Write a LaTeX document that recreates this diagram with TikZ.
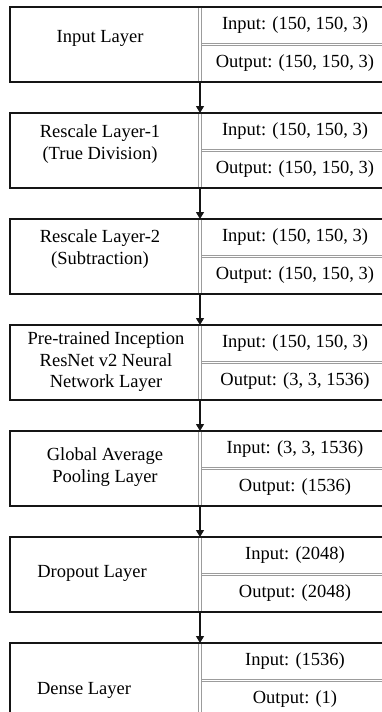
\documentclass[tikz,border=0pt]{standalone}
\usepackage{fontspec}
\setmainfont{Liberation Serif}
\usetikzlibrary{arrows.meta, positioning, calc}
\definecolor{inkblack}{HTML}{151515}
\definecolor{rulegray}{HTML}{9C9C9C}

\begin{document}
\begin{tikzpicture}[x=1pt, y=-1pt,
  >={Triangle[length=7pt, width=8pt]},
  layerbox/.style={draw=inkblack, line width=1.2pt, minimum width=376pt,
    minimum height=75pt, inner sep=0pt, outer sep=0pt},
  dbl/.style={draw=rulegray, line width=0.8pt, double=white,
    double distance=1.9pt, shorten <=0.6pt, shorten >=0.6pt},
  flow/.style={->, draw=inkblack, line width=1.1pt},
  layertext/.style={font=\fontsize{18.5}{21.5}\selectfont, align=center,
    inner sep=0pt},
  shapetext/.style={font=\fontsize{18.5}{21.5}\selectfont, inner sep=0pt}]

% Frame of the picture
\useasboundingbox (0,0) rectangle (382,712);
\clip (0,0) rectangle (382,712);

% Column positions
\coordinate (div) at (200,0);
\coordinate (rc) at (295,0);

% === Layer boxes ===
\node[layerbox, anchor=north west] (b1) at (10,7) {};
\node[layerbox, below=31pt of b1] (b2) {};
\node[layerbox, below=31pt of b2] (b3) {};
\node[layerbox, below=31pt of b3] (b4) {};
\node[layerbox, below=31pt of b4] (b5) {};
\node[layerbox, below=31pt of b5] (b6) {};
\node[layerbox, below=31pt of b6] (b7) {};

% === Double rules: column divider and input/output split ===
\draw[dbl] (b1.north -| div) -- (b1.south -| div);
\draw[dbl] ($(b1.center -| div)+(1.8,0)$) -- (b1.east);
\draw[dbl] (b2.north -| div) -- (b2.south -| div);
\draw[dbl] ($(b2.center -| div)+(1.8,0)$) -- (b2.east);
\draw[dbl] (b3.north -| div) -- (b3.south -| div);
\draw[dbl] ($(b3.center -| div)+(1.8,0)$) -- (b3.east);
\draw[dbl] (b4.north -| div) -- (b4.south -| div);
\draw[dbl] ($(b4.center -| div)+(1.8,0)$) -- (b4.east);
\draw[dbl] (b5.north -| div) -- (b5.south -| div);
\draw[dbl] ($(b5.center -| div)+(1.8,0)$) -- (b5.east);
\draw[dbl] (b6.north -| div) -- (b6.south -| div);
\draw[dbl] ($(b6.center -| div)+(1.8,0)$) -- (b6.east);
\draw[dbl] (b7.north -| div) -- (b7.south -| div);
\draw[dbl] ($(b7.center -| div)+(1.8,0)$) -- (b7.east);

% === Layer names ===
\node[layertext] (n1) at (100,38) {Input Layer};
\node[layertext] (n2) at (100,144) {Rescale Layer-1\\(True Division)};
\node[layertext] (n3) at (100,249) {Rescale Layer-2\\(Subtraction)};
\node[layertext] (n4) at (106,362)
  {Pre-trained Inception\\ResNet v2 Neural\\Network Layer};
\node[layertext] (n5) at (105,467) {Global Average\\Pooling Layer};
\node[layertext] (n6) at (92,573) {Dropout Layer};
\node[layertext] (n7) at (84,690) {Dense Layer};

% === Input / output shapes ===
\node[shapetext] (i1) at ($(b1.north -| rc)+(0,18.5)$) {Input: (150, 150, 3)};
\node[shapetext] (o1) at ($(b1.south -| rc)+(0,-18.5)$) {Output: (150, 150, 3)};
\node[shapetext] (i2) at ($(b2.north -| rc)+(0,18.5)$) {Input: (150, 150, 3)};
\node[shapetext] (o2) at ($(b2.south -| rc)+(0,-18.5)$) {Output: (150, 150, 3)};
\node[shapetext] (i3) at ($(b3.north -| rc)+(0,18.5)$) {Input: (150, 150, 3)};
\node[shapetext] (o3) at ($(b3.south -| rc)+(0,-18.5)$) {Output: (150, 150, 3)};
\node[shapetext] (i4) at ($(b4.north -| rc)+(0,18.5)$) {Input: (150, 150, 3)};
\node[shapetext] (o4) at ($(b4.south -| rc)+(0,-18.5)$) {Output: (3, 3, 1536)};
\node[shapetext] (i5) at ($(b5.north -| rc)+(0,18.5)$) {Input: (3, 3, 1536)};
\node[shapetext] (o5) at ($(b5.south -| rc)+(0,-18.5)$) {Output: (1536)};
\node[shapetext] (i6) at ($(b6.north -| rc)+(0,18.5)$) {Input: (2048)};
\node[shapetext] (o6) at ($(b6.south -| rc)+(0,-18.5)$) {Output: (2048)};
\node[shapetext] (i7) at ($(b7.north -| rc)+(0,18.5)$) {Input: (1536)};
\node[shapetext] (o7) at ($(b7.south -| rc)+(0,-18.5)$) {Output: (1)};

% === Flow between layers ===
\draw[flow] (b1.south -| div) -- (b2.north -| div);
\draw[flow] (b2.south -| div) -- (b3.north -| div);
\draw[flow] (b3.south -| div) -- (b4.north -| div);
\draw[flow] (b4.south -| div) -- (b5.north -| div);
\draw[flow] (b5.south -| div) -- (b6.north -| div);
\draw[flow] (b6.south -| div) -- (b7.north -| div);

\end{tikzpicture}
\end{document}
